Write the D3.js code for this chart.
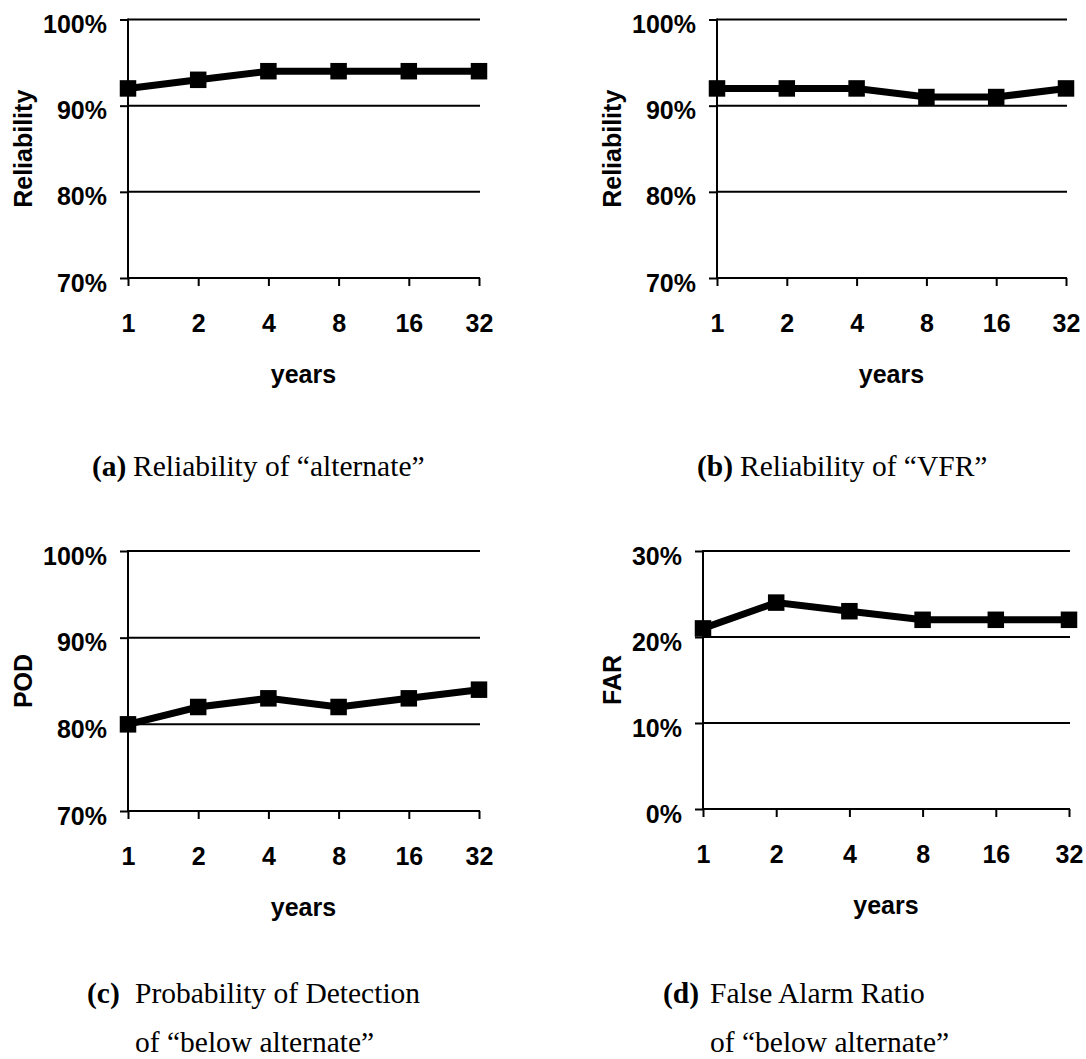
<!DOCTYPE html>
<html>
<head>
<meta charset="utf-8">
<script src="https://cdn.jsdelivr.net/npm/d3@7"></script>
<style>
  html, body { margin: 0; padding: 0; background: #fff; }
  svg { display: block; }
  .tick text { font-family: "Liberation Sans", Arial, sans-serif; font-weight: bold; font-size: 25px; fill: #000; }
  .axis-title { font-family: "Liberation Sans", Arial, sans-serif; font-weight: bold; font-size: 25px; fill: #000; }
  .caption { font-family: "Liberation Serif", "Times New Roman", serif; font-size: 29.5px; fill: #000; }
</style>
</head>
<body>
<svg id="chart" width="1086" height="1059"></svg>
<script>
// Forecast horizon categories (years)
const years = ["1", "2", "4", "8", "16", "32"];

// Series values, in percent
const reliabilityAlternate = [92, 93, 94, 94, 94, 94];
const reliabilityVFR = [92, 92, 92, 91, 91, 92];
const podBelowAlternate = [80, 82, 83, 82, 83, 84];
const farBelowAlternate = [21, 24, 23, 22, 22, 22];

// Y tick values
const ticksUpper = [70, 80, 90, 100];
const ticksFar = [0, 10, 20, 30];

// Axis titles
const yTitles = ["Reliability", "Reliability", "POD", "FAR"];
const xTitle = "years";

// Panel layout (pixel boxes of each plot area)
const panels = [
  { values: reliabilityAlternate, ticks: ticksUpper, title: yTitles[0],
    x0: 128, x1: 479, yTop: 19.5, yBot: 278, titleX: 23 },
  { values: reliabilityVFR, ticks: ticksUpper, title: yTitles[1],
    x0: 717, x1: 1066, yTop: 19.5, yBot: 278, titleX: 612 },
  { values: podBelowAlternate, ticks: ticksUpper, title: yTitles[2],
    x0: 128, x1: 479, yTop: 551, yBot: 811, titleX: 23 },
  { values: farBelowAlternate, ticks: ticksFar, title: yTitles[3],
    x0: 703, x1: 1069, yTop: 551, yBot: 809, titleX: 612 }
];

const svg = d3.select("#chart");

panels.forEach(p => {
  const g = svg.append("g");
  const x = d3.scalePoint().domain(years).range([p.x0, p.x1]);
  const y = d3.scaleLinear().domain(d3.extent(p.ticks)).range([p.yBot, p.yTop]);

  // horizontal grid lines (bottom one doubles as the x axis line)
  g.selectAll("line.grid").data(p.ticks).join("line")
    .attr("class", "grid")
    .attr("x1", p.x0).attr("x2", p.x1 + 1)
    .attr("y1", d => y(d)).attr("y2", d => y(d))
    .attr("stroke", "#000").attr("stroke-width", 2);

  // y axis
  const yAxis = g.append("g")
    .attr("transform", `translate(${p.x0},0)`)
    .call(d3.axisLeft(y).tickValues(p.ticks).tickSize(8).tickPadding(13)
      .tickFormat(d => d + "%"));
  yAxis.select(".domain").attr("stroke", "#000").attr("stroke-width", 2)
    .attr("d", `M0,${p.yTop - 1}V${p.yBot + 1}`);
  yAxis.selectAll(".tick line").attr("stroke", "#000").attr("stroke-width", 2);
  yAxis.selectAll(".tick text").attr("dy", "0.52em");

  // x axis
  const xAxis = g.append("g")
    .attr("transform", `translate(0,${p.yBot})`)
    .call(d3.axisBottom(x).tickSize(8).tickPadding(0));
  xAxis.select(".domain").remove();
  xAxis.selectAll(".tick line").attr("stroke", "#000").attr("stroke-width", 2);
  xAxis.selectAll(".tick text").attr("y", 54).attr("dy", 0);

  // axis titles
  g.append("text").attr("class", "axis-title")
    .attr("text-anchor", "middle")
    .attr("x", (p.x0 + p.x1) / 2).attr("y", p.yBot + 105)
    .text(xTitle);
  g.append("text").attr("class", "axis-title")
    .attr("text-anchor", "middle")
    .attr("dominant-baseline", "central")
    .attr("transform", `translate(${p.titleX},${(p.yTop + p.yBot) / 2}) rotate(-90)`)
    .text(p.title);

  // data line
  const line = d3.line().x((d, i) => x(years[i])).y(d => y(d));
  g.append("path").datum(p.values)
    .attr("d", line)
    .attr("fill", "none").attr("stroke", "#000")
    .attr("stroke-width", 7).attr("stroke-linejoin", "miter");

  // square markers
  const s = 16.5;
  g.selectAll("rect.marker").data(p.values).join("rect")
    .attr("class", "marker")
    .attr("x", (d, i) => x(years[i]) - s / 2)
    .attr("y", d => y(d) - s / 2)
    .attr("width", s).attr("height", s)
    .attr("fill", "#000");
});

// Captions under each panel
const captions = [
  { tag: "(a)", tagFont: "serif", tagX: 92, textX: 133, y: 476, lines: ["Reliability of \u201calternate\u201d"] },
  { tag: "(b)", tagFont: "serif", tagX: 697, textX: 740, y: 476, lines: ["Reliability of \u201cVFR\u201d"] },
  { tag: "(c)", tagFont: "serif", tagX: 87, textX: 135, y: 1003, lines: ["Probability of Detection", "of \u201cbelow alternate\u201d"] },
  { tag: "(d)", tagFont: "sans", tagX: 663, textX: 710, y: 1003, lines: ["False Alarm Ratio", "of \u201cbelow alternate\u201d"] }
];

captions.forEach(c => {
  const t = svg.append("text").attr("class", "caption")
    .attr("x", c.tagX).attr("y", c.y)
    .attr("font-weight", "bold")
    .text(c.tag);
  if (c.tagFont === "sans") {
    t.attr("font-family", '"Liberation Sans", Arial, sans-serif').attr("font-size", "28px");
  }
  c.lines.forEach((ln, i) => {
    svg.append("text").attr("class", "caption")
      .attr("x", c.textX).attr("y", c.y + i * 49)
      .text(ln);
  });
});
</script>
</body>
</html>
